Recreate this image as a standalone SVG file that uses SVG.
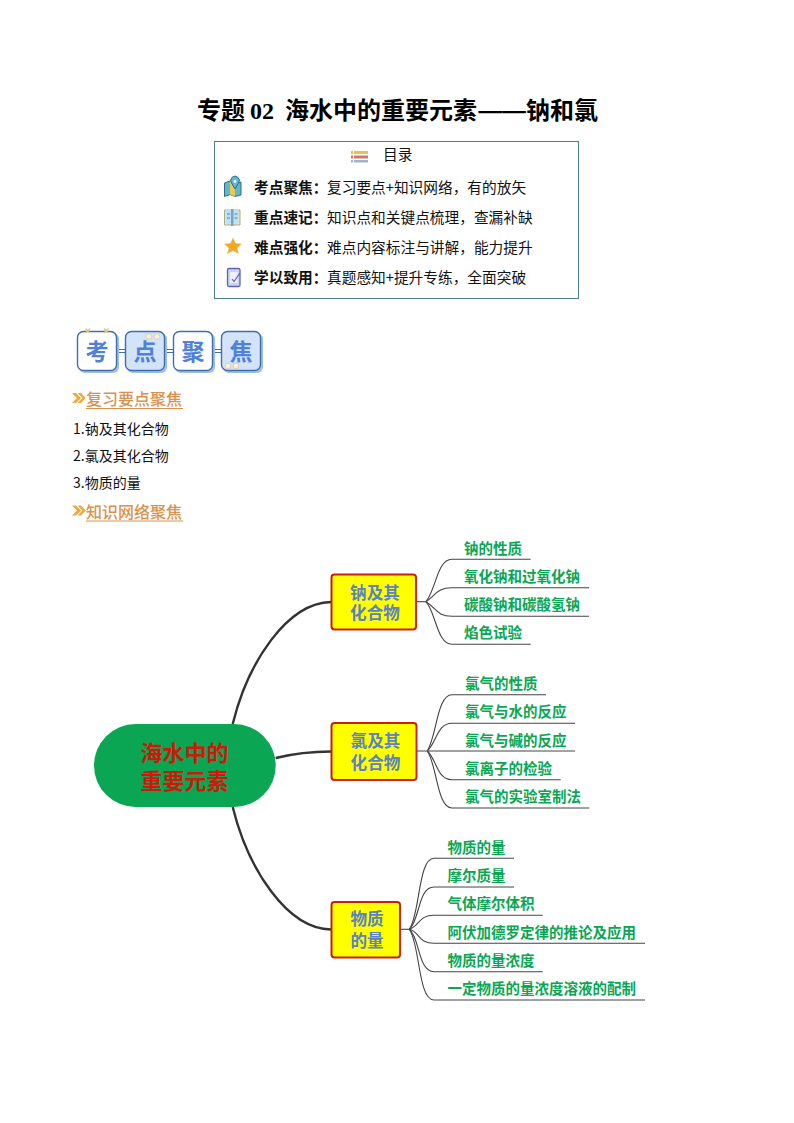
<svg xmlns="http://www.w3.org/2000/svg" width="794" height="1123" viewBox="0 0 794 1123">
<style>
text{font-family:"Noto Sans CJK SC","Liberation Sans",sans-serif;fill:#000;font-kerning:none}
.title{font-size:24px;font-weight:700}
.num{font-family:"Liberation Serif","Noto Sans CJK SC",serif;font-size:24px;font-weight:700}
.toc{font-size:14.7px;fill:#111}
.tocb{font-size:14.7px;font-weight:700;fill:#111}
.bd{fill:#fff;stroke:#3f6fa8;stroke-width:1.4}
.bf{fill:#d3e3fa;stroke:#3f6fa8;stroke-width:1.4}
.sh{fill:#9dbdf0}
.bt{font-size:23px;font-weight:700;fill:#4f81db;text-anchor:middle}
.h{font-size:16px;font-weight:500;fill:#d9924e}
.chev{fill:#eda93f}
.li{font-size:14px;fill:#111}
.main{fill:none;stroke:#333;stroke-width:2.4}
.br{fill:none;stroke:#444;stroke-width:1.1}
.nd{fill:#ffff00;stroke:#c8200f;stroke-width:2}
.nt{font-size:16.6px;font-weight:700;fill:#5b82c4;text-anchor:middle}
.lb{font-size:14.5px;font-weight:700;fill:#0aa653}
.ct{font-size:22px;font-weight:700;fill:#cc1a0a;text-anchor:middle}
.dot{fill:#f7f1e3;stroke:#e3cfa5;stroke-width:1}
</style>
<g id="title">
<text class="title" x="197" y="119">专题</text>
<text class="num" x="250" y="119">02</text>
<text class="title" x="285" y="119">海水中的重要元素</text>
<text class="title" transform="translate(477 119) scale(1.22 1)" x="0 19.500" y="0">——</text>
<text class="title" x="526" y="119">钠和氯</text>
</g>
<g id="toc">
<rect x="214.500" y="141.500" width="364" height="157" fill="#fff" stroke="#4f7f8f" stroke-width="1"/>
<g id="icon-list">
<rect x="354" y="151" width="14" height="3" fill="#eec04c"/>
<rect x="354" y="155.500" width="14" height="3" fill="#d0796a"/>
<rect x="354" y="160" width="14" height="2.500" fill="#9db4d9"/>
<rect x="351" y="151" width="2" height="3" fill="#eec04c"/>
<rect x="351" y="155.500" width="2" height="3" fill="#d0796a"/>
<rect x="351" y="160" width="2" height="2.500" fill="#9db4d9"/>
</g>
<text class="toc" x="383" y="160">目录</text>
<g id="icon-map">
<path d="M224.500 183 L230 181 L235 184 L241 182 V195 L235 196.500 L230 194.500 L224.500 196.500Z" fill="#5fb7c9" stroke="#2f6d8f" stroke-width="1"/>
<path d="M230 181 L235 184 V196.500 L230 194.500Z" fill="#f0c84e"/>
<path d="M235 189 L231.500 183 A4.300 4.300 0 1 1 238.500 183Z" fill="#5fb6d9" stroke="#2f6d8f" stroke-width="1"/>
<circle cx="235" cy="181.500" r="1.400" fill="#fff"/>
</g>
<g id="icon-book">
<path d="M224.500 210 H240 V225 H224.500Z" fill="#e2e4c8" stroke="#a8ad88" stroke-width="1"/>
<rect x="226" y="209.500" width="5" height="14" fill="#bfe0ee"/>
<rect x="233.500" y="209.500" width="5" height="14" fill="#bfe0ee"/>
<rect x="231" y="209" width="2.500" height="17" fill="#6fa8cc"/>
<path d="M227 214 H230 M227 218 H230 M234.500 214 H237.500 M234.500 218 H237.500" stroke="#4f86a8" stroke-width="1"/>
</g>
<path id="icon-star" d="M233 238 L235.500 243.500 L241.500 244 L237 248 L238.500 253.500 L233 250.500 L227.500 253.500 L229 248 L224.500 244 L230.500 243.500Z" fill="#f5a623" stroke="#e8c05a" stroke-width=".5"/>
<g id="icon-tablet">
<rect x="227.500" y="268.500" width="12.500" height="18" rx="1.500" fill="#ccd2f2" stroke="#5a66b5" stroke-width="1.300"/>
<rect x="230" y="272" width="7.500" height="11" fill="#eef0fb"/>
<path d="M232 279 L234 281.500 L240 273" fill="none" stroke="#5a66b5" stroke-width="1.200"/>
</g>
<text class="tocb" x="254" y="193">考点聚焦：</text><text class="toc" x="327" y="193">复习要点+知识网络，有的放矢</text>
<text class="tocb" x="254" y="223">重点速记：</text><text class="toc" x="327" y="223">知识点和关键点梳理，查漏补缺</text>
<text class="tocb" x="254" y="253">难点强化：</text><text class="toc" x="327" y="253">难点内容标注与讲解，能力提升</text>
<text class="tocb" x="254" y="283">学以致用：</text><text class="toc" x="327" y="283">真题感知+提升专练，全面突破</text>
</g>
<g id="badge">
<path d="M117 349.500 H125 M117 352.500 H125 M165 349.500 H173 M165 352.500 H173 M213 349.500 H221 M213 352.500 H221" stroke="#3f6fa8" stroke-width="1.200"/>
<rect class="sh" x="79" y="333" width="40" height="40" rx="6"/>
<rect class="sh" x="127" y="333" width="40" height="40" rx="6"/>
<rect class="sh" x="175" y="333" width="40" height="40" rx="6"/>
<rect class="sh" x="223" y="333" width="40" height="40" rx="6"/>
<rect class="bd" x="77.500" y="331.500" width="39" height="39" rx="6"/>
<rect class="bf" x="125.500" y="331.500" width="39" height="39" rx="6"/>
<rect class="bd" x="173.500" y="331.500" width="39" height="39" rx="6"/>
<rect class="bf" x="221.500" y="331.500" width="39" height="39" rx="6"/>
<path d="M85.500 328.500 L90 333 M90 328.500 L85.500 333 M104 328.500 L108.500 333 M108.500 328.500 L104 333" stroke="#e8c27a" stroke-width="1.400"/>
<circle class="dot" cx="149" cy="336.500" r="2.800"/><circle class="dot" cx="157" cy="336.500" r="2.800"/>
<circle class="dot" cx="228" cy="366" r="2.800"/><circle class="dot" cx="236" cy="366" r="2.800"/>
<text class="bt" x="97" y="360">考</text>
<text class="bt" x="145" y="360">点</text>
<text class="bt" x="193" y="360">聚</text>
<text class="bt" x="241" y="360">焦</text>
</g>
<g id="section-1">
<path class="chev" d="M72 393 H76 L81 398 L76 403 H72 L77 398Z M77.500 393 H81 L85.800 398 L81 403 H77.500 L82.500 398Z"/>
<text class="h" x="86" y="405">复习要点聚焦</text>
<path d="M86 408.500 H183" stroke="#d9924e" stroke-width="1"/>
<text class="li" x="73" y="434">1.钠及其化合物</text>
<text class="li" x="73" y="461">2.氯及其化合物</text>
<text class="li" x="73" y="488">3.物质的量</text>
</g>
<g id="section-2">
<path class="chev" d="M72 505.500 H76 L81 510.500 L76 515.500 H72 L77 510.500Z M77.500 505.500 H81 L85.800 510.500 L81 515.500 H77.500 L82.500 510.500Z"/>
<text class="h" x="86" y="518">知识网络聚焦</text>
<path d="M86 521 H183" stroke="#d9924e" stroke-width="1"/>
</g>
<g id="connectors">
<path class="main" d="M232.700 724 C248 662 287 603 331 602"/>
<path class="main" d="M275.700 758 C292 754 310 751.500 331 751.500"/>
<path class="main" d="M232.700 807 C248 869 287 929 331 929.500"/>
<path class="br" d="M416 601.700 H426"/>
<path class="br" d="M426 601.700 C436 590 437 559.300 452 559.300 H530.700"/>
<path class="br" d="M426 601.700 C436 595 437 587.700 452 587.700 H589"/>
<path class="br" d="M426 601.700 C436 608 437 616.300 452 616.300 H589"/>
<path class="br" d="M426 601.700 C436 613 437 644.300 452 644.300 H530.700"/>
<path class="br" d="M417 751 H575"/>
<path class="br" d="M427.300 751 C437 735 437 694.700 452 694.700 H546"/>
<path class="br" d="M427.300 751 C437 742 437 723.300 452 723.300 H575"/>
<path class="br" d="M427.300 751 C437 760 437 779.700 452 779.700 H560.700"/>
<path class="br" d="M427.300 751 C437 765 437 808 452 808 H589.300"/>
<path class="br" d="M400 929.300 H409.300"/>
<path class="br" d="M409.300 929.300 C420 915 418 858.300 434 858.300 H514"/>
<path class="br" d="M409.300 929.300 C420 920 418 887 434 887 H514"/>
<path class="br" d="M409.300 929.300 C420 926 418 915.300 434 915.300 H542.700"/>
<path class="br" d="M409.300 929.300 C420 932 418 943.300 434 943.300 H645"/>
<path class="br" d="M409.300 929.300 C420 938 418 971.700 434 971.700 H542.700"/>
<path class="br" d="M409.300 929.300 C420 944 418 1000 434 1000 H645"/>
</g>
<g id="center">
<rect x="94" y="724" width="181.700" height="83" rx="41.500" fill="#0aa653"/>
<text class="ct"><tspan x="184.500" y="761">海水中的</tspan><tspan x="184.500" y="788.500">重要元素</tspan></text>
</g>
<g id="node-na">
<rect class="nd" x="331.500" y="574.500" width="84.500" height="55" rx="3"/>
<text class="nt"><tspan x="375" y="598.500">钠及其</tspan><tspan x="375" y="619">化合物</tspan></text>
</g>
<g id="node-cl">
<rect class="nd" x="331.500" y="723" width="85" height="57" rx="3"/>
<text class="nt"><tspan x="375.500" y="747">氯及其</tspan><tspan x="375.500" y="768.500">化合物</tspan></text>
</g>
<g id="node-mol">
<rect class="nd" x="331.500" y="902" width="68.500" height="55.500" rx="3"/>
<text class="nt"><tspan x="367" y="925">物质</tspan><tspan x="367" y="947">的量</tspan></text>
</g>
<g id="leaves-na">
<text class="lb" x="464" y="553.500">钠的性质</text>
<text class="lb" x="464" y="581.500">氧化钠和过氧化钠</text>
<text class="lb" x="464" y="610">碳酸钠和碳酸氢钠</text>
<text class="lb" x="464" y="638">焰色试验</text>
</g>
<g id="leaves-cl">
<text class="lb" x="465" y="689">氯气的性质</text>
<text class="lb" x="465" y="717">氯气与水的反应</text>
<text class="lb" x="465" y="745.500">氯气与碱的反应</text>
<text class="lb" x="465" y="773.500">氯离子的检验</text>
<text class="lb" x="465" y="802">氯气的实验室制法</text>
</g>
<g id="leaves-mol">
<text class="lb" x="447.500" y="852.500">物质的量</text>
<text class="lb" x="447.500" y="881">摩尔质量</text>
<text class="lb" x="447.500" y="909">气体摩尔体积</text>
<text class="lb" x="447.500" y="937.500">阿伏加德罗定律的推论及应用</text>
<text class="lb" x="447.500" y="965.500">物质的量浓度</text>
<text class="lb" x="447.500" y="994">一定物质的量浓度溶液的配制</text>
</g>
</svg>
